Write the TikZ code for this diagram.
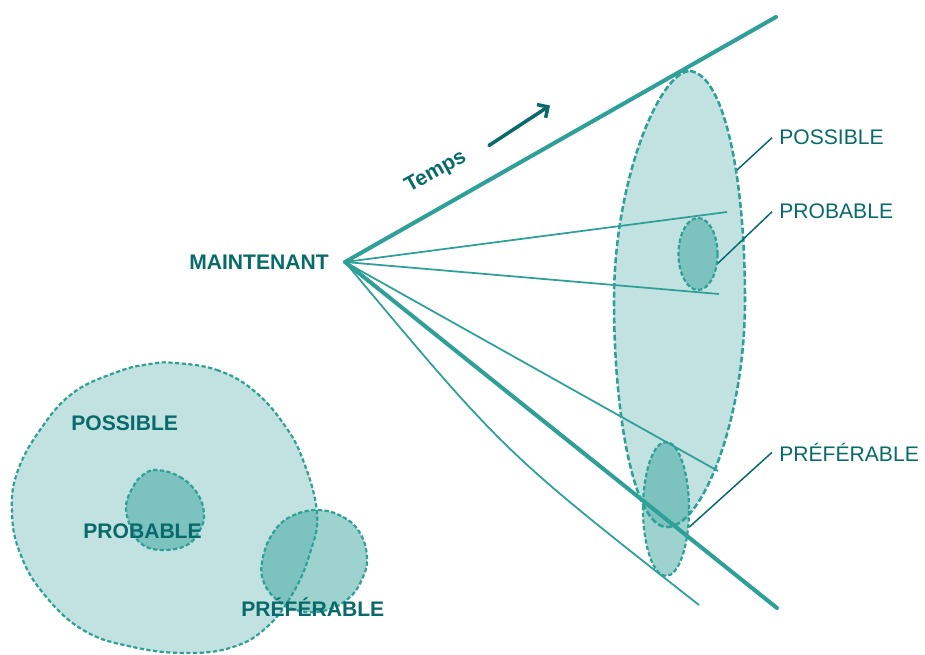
\documentclass[tikz,border=0pt]{standalone}
\usepackage{fontspec}
\setmainfont{Liberation Sans}
\usetikzlibrary{arrows.meta,shapes.geometric}
\definecolor{sea}{RGB}{46,160,152}
\definecolor{deepsea}{RGB}{8,106,106}
\definecolor{foam}{RGB}{194,226,225}

\begin{document}
\begin{tikzpicture}[x=0.2mm, y=-0.2mm,
    ray/.style={color=sea, line width=2.3pt, line cap=round},
    thinray/.style={color=sea, line width=1pt},
    outline/.style={draw=sea, line width=1.25pt, dash pattern=on 2.4pt off 1.4pt},
    overlap/.style={outline, fill=sea, fill opacity=0.47},
    leader/.style={color=deepsea, line width=0.85pt},
    boldlbl/.style={text=deepsea, font=\fontsize{12}{14}\selectfont\bfseries, inner sep=0pt, anchor=base west},
    lbl/.style={text=deepsea, font=\fontsize{12}{14}\selectfont, inner xsep=4pt, inner ysep=0pt, anchor=base west}]
  \useasboundingbox (0,0) rectangle (925,655);

  % Left: nested sets
  \draw[outline, fill=foam] plot[smooth cycle, tension=0.7] coordinates {
      (175,363) (217,370) (253,390) (283,423) (303,460) (317,513) (310,553) (293,593)
      (267,627) (233,647) (187,653) (133,647) (83,630) (43,593) (20,553) (12,513)
      (17,473) (40,430) (73,393) (117,372) (150,364)};
  \draw[overlap] plot[smooth cycle, tension=0.7] coordinates {
      (157,470) (180,477) (197,493) (204,513) (200,530) (187,545) (163,550)
      (143,545) (132,530) (126,507) (133,487) (143,475)};
  \draw[overlap] plot[smooth cycle, tension=0.7] coordinates {
      (317,510) (343,517) (360,533) (367,557) (363,577) (350,597) (327,610)
      (300,611) (277,600) (263,580) (263,557) (273,533) (290,517)};
  \node[boldlbl] (setposs) at (71,430.5) {POSSIBLE};
  \node[boldlbl] (setprob) at (83,538.5) {PROBABLE};
  \node[boldlbl] (setpref) at (241,616.5) {PRÉFÉRABLE};

  % Right: cone of futures
  \draw[outline, line width=1.45pt, dash pattern=on 3.4pt off 1.5pt, fill=foam]
      (690,71) .. controls (725,75) and (745,180) .. (745,300)
      .. controls (745,420) and (702,527) .. (667,527)
      .. controls (635,527) and (614,420) .. (614,300)
      .. controls (614,180) and (660,71) .. (690,71);
  \coordinate (possR) at (737,170);

  \coordinate (now) at (345,262);
  \coordinate (top) at (776,17);
  \coordinate (bottom) at (777,608);
  \coordinate (f1) at (727,212);
  \coordinate (f2) at (719,294);
  \coordinate (f3) at (718,471);
  \coordinate (f4) at (699,605);
  \draw[ray] (now) -- (top);
  \draw[ray] (now) -- (bottom);
  \foreach \e in {f1,f2,f3}
    \draw[thinray] (now) -- (\e);
  \draw[thinray] (now) .. controls (504,452) .. (f4);

  \node[overlap, ellipse, inner sep=0pt, minimum width=7.8mm, minimum height=14.4mm] (probR) at (698,254) {};
  \node[overlap, ellipse, inner sep=0pt, minimum width=9.2mm, minimum height=26.8mm] (prefR) at (666,509) {};

  % Labels
  \node[boldlbl, anchor=base east] (nowlbl) at (329,269.5) {MAINTENANT};
  \node[boldlbl, rotate=29] (timelbl) at (409,193) {Temps};
  \coordinate (tail) at (489,145.5);
  \coordinate (tip) at (550,105.5);
  \draw[color=deepsea, line width=2pt, line cap=round, -{Straight Barb[length=4.5pt, width=9pt]}] (tail) -- (tip);

  \node[lbl] (lblposs) at (772,145) {POSSIBLE};
  \node[lbl] (lblprob) at (772,219) {PROBABLE};
  \node[lbl] (lblpref) at (772,461.5) {PRÉFÉRABLE};
  \draw[leader] (lblposs.west) -- (possR);
  \draw[leader] (lblprob.west) -- (probR.-25);
  \draw[leader] (lblpref.west) -- (prefR.-38);
\end{tikzpicture}
\end{document}
